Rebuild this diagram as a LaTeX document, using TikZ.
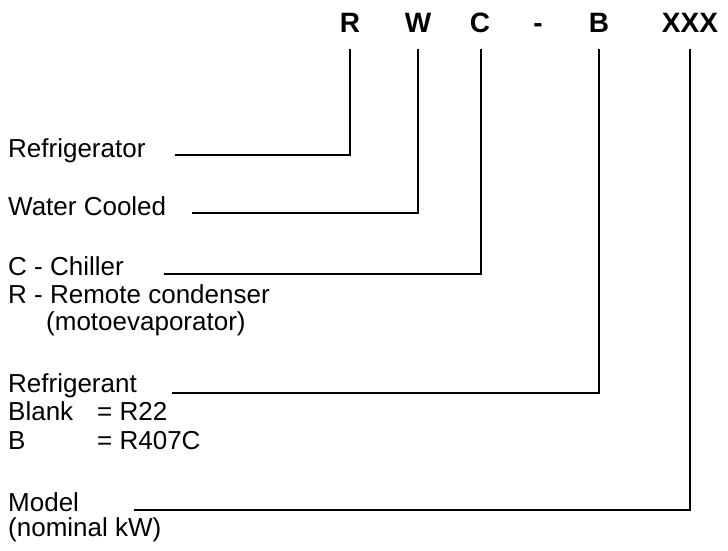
\documentclass[tikz,border=0pt]{standalone}
\usepackage{fontspec}
\setmainfont{Liberation Sans}
\begin{document}
\begin{tikzpicture}[x=1pt,y=-1pt,
  code/.style={font=\fontsize{28}{30}\selectfont\bfseries,anchor=base,inner sep=0pt},
  lbl/.style={font=\fontsize{26}{30}\selectfont,anchor=base west,inner sep=0pt},
  conn/.style={line width=2pt,line cap=rect}]
\useasboundingbox (0,0) rectangle (728,551);
% code letters
\node[code] (cR) at (350,33) {R};
\node[code] (cW) at (418,33) {W};
\node[code] (cC) at (480,33) {C};
\node[code] (cD) at (538,33) {-};
\node[code] (cB) at (599,33) {B};
\node[code] (cX) at (690,33) {XXX};
% top points
\coordinate (tR) at (350,50);
\coordinate (tW) at (418,50);
\coordinate (tC) at (481,50);
\coordinate (tB) at (599,50);
\coordinate (tX) at (690,50);
% labels
\node[lbl] (l1) at (8,157) {Refrigerator};
\node[lbl] (l2) at (8,215) {Water Cooled};
\node[lbl] (l3) at (8,275) {C - Chiller};
\node[lbl] (l3b) at (8,303) {R - Remote condenser};
\node[lbl] (l3c) at (46,330) {(motoevaporator)};
\node[lbl] (l4) at (8,392) {Refrigerant};
\node[lbl] (l4b) at (8,420) {Blank};
\node[lbl] (l4c) at (8,449) {B};
\node[lbl] (l4d) at (97,420) {= R22};
\node[lbl] (l4e) at (97,449) {= R407C};
\node[lbl] (l5) at (8,511) {Model};
\node[lbl] (l5b) at (8,536) {(nominal kW)};
% corner coordinates
\coordinate (s1) at (176,155);
\coordinate (s2) at (193,213);
\coordinate (s3) at (165,274);
\coordinate (s4) at (173,393);
\coordinate (s5) at (135,510);
% connectors
\draw[conn] (s1) -- (s1 -| tR) -- (tR);
\draw[conn] (s2) -- (s2 -| tW) -- (tW);
\draw[conn] (s3) -- (s3 -| tC) -- (tC);
\draw[conn] (s4) -- (s4 -| tB) -- (tB);
\draw[conn] (s5) -- (s5 -| tX) -- (tX);
\end{tikzpicture}
\end{document}
